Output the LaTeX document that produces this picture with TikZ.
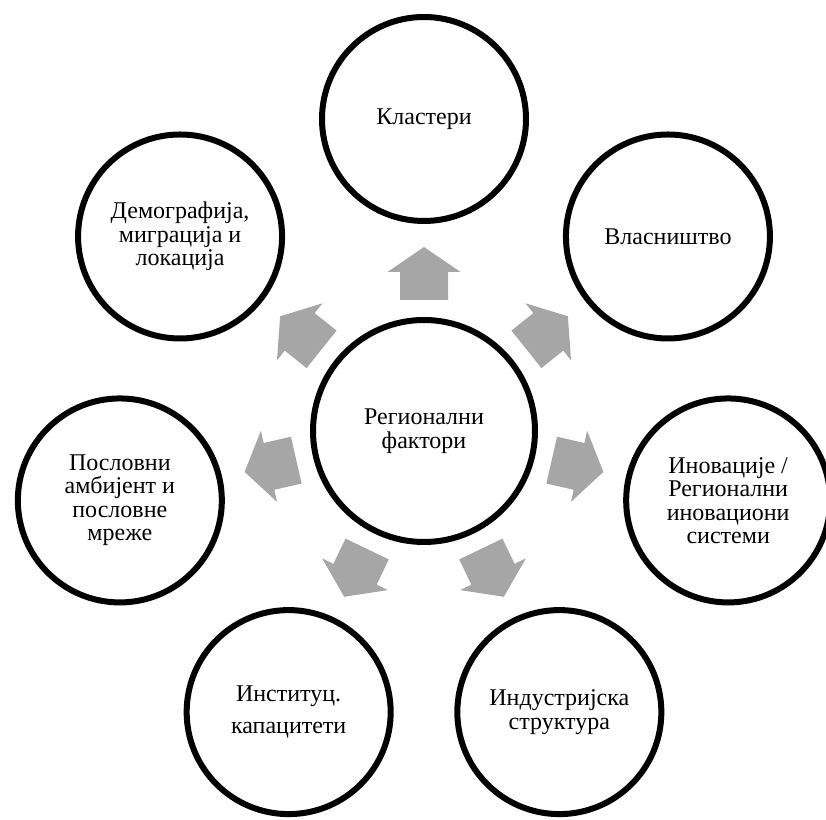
\documentclass[tikz,border=0pt]{standalone}
\usepackage{fontspec}
\setmainfont{Liberation Serif}
\usetikzlibrary{calc}
\begin{document}
\begin{tikzpicture}[x=1pt,y=1pt,
  ring/.style={circle,draw=black,line width=6pt,fill=white,minimum size=204pt,inner sep=0pt,align=center,font=\fontsize{24}{23.5}\selectfont},
  hub/.style={ring,minimum size=222pt},
  blockarrow/.style={fill=arrowgray}]
\definecolor{arrowgray}{HTML}{A6A6A6}
\useasboundingbox (0,0) rectangle (826,819);
\clip (0,0) rectangle (826,819);
\coordinate (c) at (424,388);
\foreach \k in {0,...,6}{
  \pgfmathsetmacro{\ang}{90+\k*360/7}
  \begin{scope}[shift={(c)},rotate=\ang]
    \fill[blockarrow] (131,-24) -- (159,-24) -- (159,-36.5) -- (184,0) -- (159,36.5) -- (159,24) -- (131,24) -- cycle;
  \end{scope}
}
\node[hub] (center) at (c) {Регионални\\фактори};
\node[ring] (n0) at ($(c)+(90:312)$) {Кластери};
\node[ring] (n1) at ($(c)+(141.43:312)$) {Демографија,\\миграција и\\локација};
\node[ring] (n2) at ($(c)+(192.86:312)$) {Пословни\\амбијент и\\пословне\\мреже};
\node[ring] (n3) at ($(c)+(244.29:312)$) {Институц.\\[8pt]капацитети};
\node[ring] (n4) at ($(c)+(295.71:312)$) {Индустријска\\структура};
\node[ring] (n5) at ($(c)+(347.14:312)$) {Иновације /\\Регионални\\иновациони\\системи};
\node[ring] (n6) at ($(c)+(38.57:312)$) {Власништво};
\end{tikzpicture}
\end{document}
